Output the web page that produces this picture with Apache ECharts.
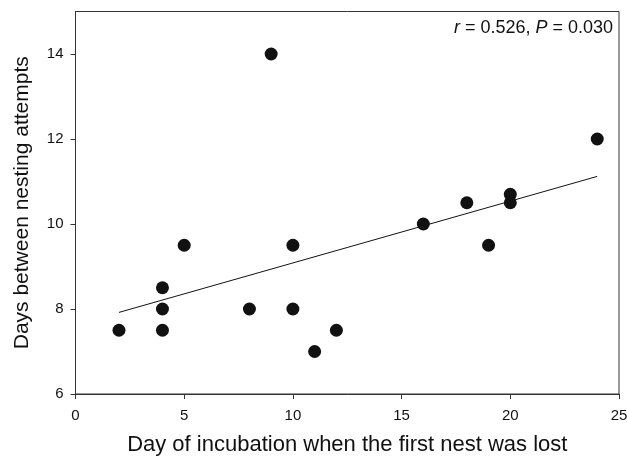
<!DOCTYPE html>
<html>
<head>
<meta charset="utf-8">
<script src="https://cdn.jsdelivr.net/npm/echarts@6/dist/echarts.min.js"></script>
<style>
  html, body { margin: 0; padding: 0; background: #fff; }
  #chart { width: 627px; height: 456px; }
</style>
</head>
<body>
<div id="chart"></div>
<script>
// 数据
var dayLost = [2, 4, 4, 4, 5, 8, 9, 10, 10, 11, 12, 16, 18, 19, 20, 20, 24];
var daysBetween = [7.5, 8.5, 8, 7.5, 9.5, 8, 14, 9.5, 8, 7, 7.5, 10, 10.5, 9.5, 10.7, 10.5, 12];
// 回归线两端
var fitX = [2, 24];
var fitY = [7.92, 11.12];
var yTicks = [6, 8, 10, 12, 14];

var points = dayLost.map(function (d, i) { return [d, daysBetween[i]]; });
var fitLine = fitX.map(function (d, i) { return [d, fitY[i]]; });

var font = 'Liberation Sans, Arial, sans-serif';
var axisColor = '#333';

var chart = echarts.init(document.getElementById('chart'));
chart.setOption({
    animation: false,
    grid: {
        left: 75.5, top: 11.5, right: 8, bottom: 62,
        outerBoundsMode: 'none',
        containLabel: false,
        show: true,
        borderColor: axisColor,
        borderWidth: 1
    },
    xAxis: {
        type: 'value',
        min: 0, max: 25, interval: 5,
        name: 'Day of incubation when the first nest was lost',
        nameLocation: 'middle',
        nameGap: 40,
        nameTextStyle: { fontFamily: font, fontSize: 22, color: '#111' },
        axisLine: { lineStyle: { color: axisColor } },
        axisTick: { length: 5, lineStyle: { color: axisColor } },
        axisLabel: { fontFamily: font, fontSize: 15, color: '#111', margin: 14 },
        splitLine: { show: false }
    },
    yAxis: {
        type: 'value',
        min: 6, max: 15,
        name: 'Days between nesting attempts',
        nameLocation: 'middle',
        nameGap: 43,
        nameTextStyle: { fontFamily: font, fontSize: 21, color: '#111' },
        axisLine: { lineStyle: { color: axisColor } },
        axisTick: { length: 5, customValues: yTicks, lineStyle: { color: axisColor } },
        axisLabel: { fontFamily: font, fontSize: 15, color: '#111', margin: 12, customValues: yTicks },
        splitLine: { show: false }
    },
    graphic: [{
        type: 'text',
        right: 14,
        top: 19,
        style: {
            text: '{i|r} = 0.526, {i|P} = 0.030',
            fontFamily: font,
            fontSize: 18,
            fill: '#111',
            rich: {
                i: { fontStyle: 'italic', fontFamily: font, fontSize: 18, color: '#111' }
            }
        }
    }],
    series: [{
        type: 'line',
        data: fitLine,
        symbol: 'none',
        lineStyle: { color: '#111', width: 1 },
        z: 1
    }, {
        type: 'scatter',
        data: points,
        symbolSize: 13,
        itemStyle: { color: '#111', opacity: 1 },
        z: 2
    }]
});
</script>
</body>
</html>
